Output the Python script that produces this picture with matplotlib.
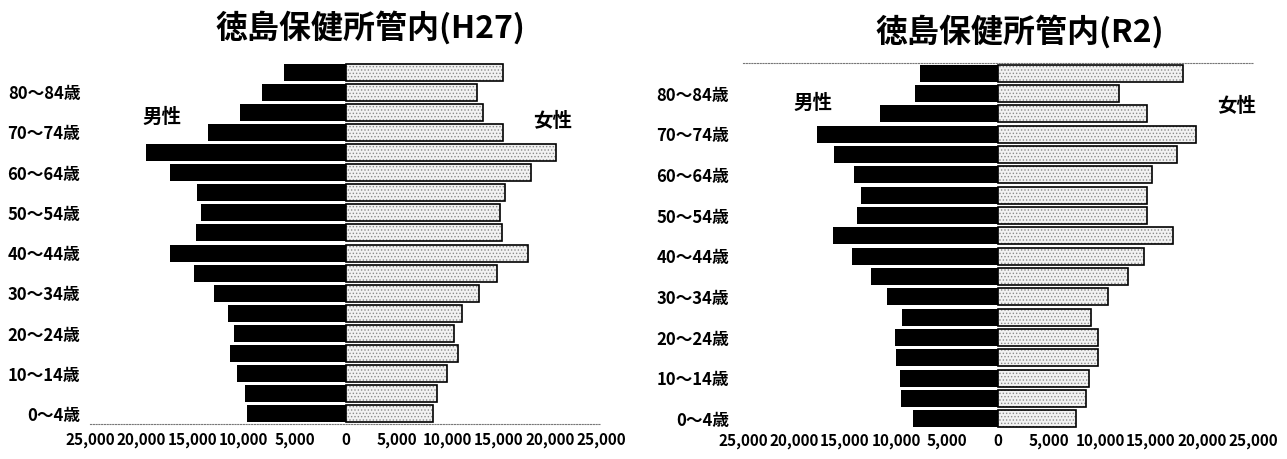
import matplotlib
matplotlib.use('Agg')
import matplotlib.pyplot as plt
from matplotlib.ticker import FixedLocator, FuncFormatter

plt.rcParams['font.family'] = ['Noto Sans CJK JP', 'DejaVu Sans']
plt.rcParams['hatch.linewidth'] = 0.6

# ---- data ----
age_groups = ['0～4歳', '5～9歳', '10～14歳', '15～19歳', '20～24歳', '25～29歳',
              '30～34歳', '35～39歳', '40～44歳', '45～49歳', '50～54歳', '55～59歳',
              '60～64歳', '65～69歳', '70～74歳', '75～79歳', '80～84歳', '85歳以上']
shown_labels = [a if i % 2 == 0 else '' for i, a in enumerate(age_groups)]

h27_male = [9610, 9810, 10580, 11260, 10870, 11460, 12900, 14860, 17190,
            14660, 14180, 14570, 17190, 19520, 13500, 10290, 8160, 6020]
h27_female = [8540, 8930, 9900, 10970, 10580, 11360, 13110, 14860, 17870,
              15340, 15150, 15630, 18160, 20590, 15440, 13500, 12820, 15440]

r2_male = [8320, 9490, 9580, 9970, 10070, 9390, 10850, 12500, 14350,
           16200, 13820, 13430, 14110, 16050, 17710, 11580, 8170, 7690]
r2_female = [7640, 8610, 8900, 9780, 9780, 9100, 10750, 12700, 14350,
             17170, 14600, 14600, 15080, 17510, 19460, 14600, 11870, 18100]

x_ticks = [-25000, -20000, -15000, -10000, -5000, 0, 5000, 10000, 15000, 20000, 25000]

W, H = 1287, 459
fig = plt.figure(figsize=(W / 100, H / 100), dpi=100)


def px(x, y):
    return x / W, 1 - y / H


def draw(rect, male, female, title, title_xy, male_xy, female_xy,
         ypad, xpad, dotted):
    ax = fig.add_axes(rect)
    y = list(range(len(age_groups)))
    ax.barh(y, [-m for m in male], height=0.85, color='black', linewidth=0)
    ax.barh(y, female, height=0.85, color='#f2f2f2', hatch='.....',
            edgecolor='#8c8c8c', linewidth=0)
    ax.barh(y, female, height=0.85, fill=False, edgecolor='black', linewidth=1.2)
    ax.set_xlim(-25000, 25000)
    ax.set_ylim(-0.5, len(age_groups) - 0.5)
    ax.xaxis.set_major_locator(FixedLocator(x_ticks))
    ax.xaxis.set_major_formatter(FuncFormatter(lambda v, p: f'{abs(int(v)):,}'))
    ax.set_yticks(y)
    ax.set_yticklabels(shown_labels)
    ax.tick_params(axis='x', length=0, pad=xpad, labelsize=11)
    ax.tick_params(axis='y', length=0, pad=ypad, labelsize=12)
    for lab in ax.get_xticklabels() + ax.get_yticklabels():
        lab.set_fontweight('bold')
    for s in ax.spines.values():
        s.set_visible(False)
    sp = ax.spines[dotted]
    sp.set_visible(True)
    sp.set_linestyle((0, (1, 1.5)))
    sp.set_color('#777777')
    sp.set_linewidth(0.8)
    ax.set_facecolor('none')

    fig.text(*px(*title_xy), title, ha='center', va='center',
             fontsize=23, fontweight='bold')
    fig.text(*px(*male_xy), '男性', ha='center', va='center', fontsize=14,
             fontweight='bold')
    fig.text(*px(*female_xy), '女性', ha='center', va='center', fontsize=14,
             fontweight='bold')
    return ax


# left: H27
draw([90 / W, 35 / H, 511 / W, 362 / H], h27_male, h27_female,
     '徳島保健所管内(H27)', (370, 28), (162, 117), (553, 121),
     ypad=7, xpad=6, dotted='bottom')

# right: R2
draw([743 / W, 30 / H, 510 / W, 366 / H], r2_male, r2_female,
     '徳島保健所管内(R2)', (1020, 32), (813, 103), (1237, 106),
     ypad=10, xpad=3, dotted='top')

fig.savefig('out.png', dpi=100)
